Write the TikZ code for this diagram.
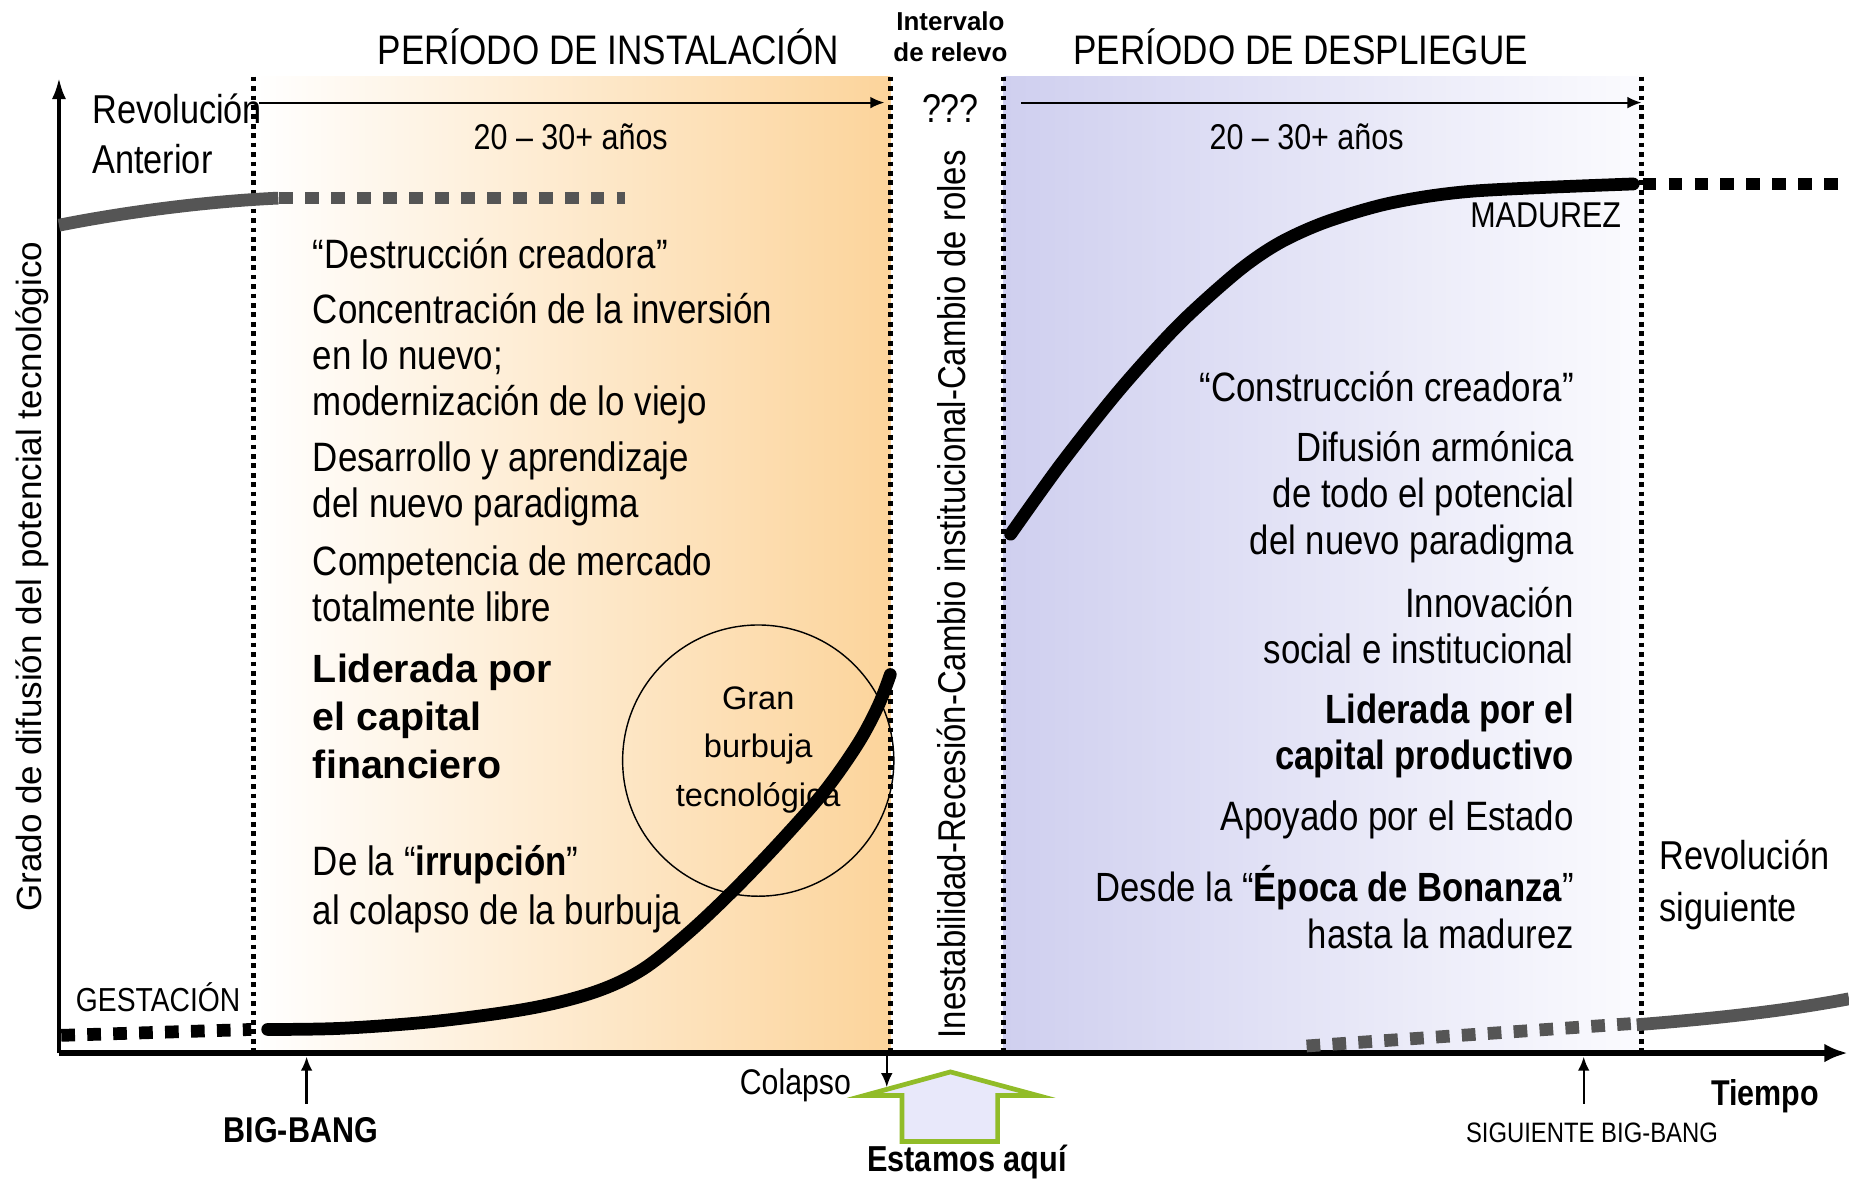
\documentclass[tikz,border=0pt]{standalone}
\usepackage{fontspec}
\setmainfont{Liberation Sans}
\newfontfamily\nfont[FakeStretch=0.85]{Liberation Sans}
\usetikzlibrary{arrows.meta}
\definecolor{orng}{RGB}{252,212,155}
\definecolor{orngmid}{RGB}{254,234,205}
\definecolor{lav}{RGB}{207,207,239}
\definecolor{lavmid}{RGB}{226,226,245}
\definecolor{lavend}{RGB}{251,251,254}
\definecolor{grayc}{RGB}{85,85,85}
\definecolor{grn}{RGB}{145,188,40}
\definecolor{arrfill}{RGB}{232,232,250}
\begin{document}
\begin{tikzpicture}[x=0.5pt,y=-0.5pt,
  dotv/.style={line width=2pt, dash pattern=on 2pt off 2pt},
  period/.style={line width=0.8pt, -{Latex[length=6pt,width=5pt]}},
  pointer/.style={line width=1pt, -{Latex[length=6pt,width=5pt]}},
  sline/.style={line width=5.4pt, line cap=round},
  dline/.style={line width=5.4pt, dash pattern=on 5.8pt off 5.2pt},
  body/.style={inner sep=0pt, font=\nfont\fontsize{17.4}{19.5}\selectfont},
  bodyb/.style={inner sep=0pt, font=\nfont\bfseries\fontsize{17.3}{19.5}\selectfont},
  small/.style={inner sep=0pt, font=\nfont\fontsize{15.2}{17}\selectfont},
  smallb/.style={inner sep=0pt, font=\nfont\bfseries\fontsize{15.2}{17}\selectfont}]
\useasboundingbox (0,0) rectangle (1568,1002);
\fill[white] (0,0) rectangle (1568,1002);

% period backgrounds
\shade[left color=white, middle color=orngmid, right color=orng] (215,65) rectangle (755,893);
\shade[left color=lav, middle color=lavmid, right color=lavend] (851,65) rectangle (1392,893);

% dotted period borders
\coordinate (d1t) at (215,65);  \coordinate (d1b) at (215,890);
\coordinate (d2t) at (755,65);  \coordinate (d2b) at (755,890);
\coordinate (d3t) at (851,65);  \coordinate (d3b) at (851,890);
\coordinate (d4t) at (1392,65); \coordinate (d4b) at (1392,890);
\draw[dotv] (d1t) -- (d1b);
\draw[dotv] (d2t) -- (d2b);
\draw[dotv] (d3t) -- (d3b);
\draw[dotv] (d4t) -- (d4b);

% axes
\coordinate (origin) at (50,893);
\coordinate (ytop) at (50,66);
\coordinate (xend) at (1567,893);
\draw[line width=1.6pt, -{Latex[length=9pt,width=6pt]}] (origin) -- (ytop);
\draw[line width=2.2pt, -{Latex[length=10pt,width=8pt]}] (origin) -- (xend);

% period arrows
\coordinate (pa1) at (220,87);  \coordinate (pa2) at (750,87);
\coordinate (pb1) at (866,87);  \coordinate (pb2) at (1392,87);
\draw[period] (pa1) -- (pa2);
\draw[period] (pb1) -- (pb2);

% titles
\node[inner sep=0pt, font=\nfont\fontsize{17.5}{20}\selectfont] (tinst) at (516,40) {PERÍODO DE INSTALACIÓN};
\node[inner sep=0pt, font=\nfont\fontsize{17.5}{20}\selectfont] (tdesp) at (1103,40) {PERÍODO DE DESPLIEGUE};
\node[inner sep=0pt, align=center, font=\bfseries\fontsize{11}{13}\selectfont] (interv) at (806,31) {Intervalo\\de relevo};
\node[inner sep=0pt, font=\nfont\fontsize{17}{19}\selectfont] (qqq) at (806,92) {???};
\node[small] (yr1) at (484,116) {20 – 30+ años};
\node[small] (yr2) at (1108,116) {20 – 30+ años};

% left column texts
\node[inner sep=0pt, anchor=west, align=left, font=\nfont\fontsize{17.1}{21.5}\selectfont] (revant) at (78,113.5) {Revolución\\Anterior};
\node[body, anchor=west, align=left] (destr) at (265,215) {“Destrucción creadora”};
\node[body, anchor=west, align=left] (conc) at (265,304) {Concentración de la inversión\\en lo nuevo;\\modernización de lo viejo};
\node[body, anchor=west, align=left] (desar) at (265,410.5) {Desarrollo y aprendizaje\\del nuevo paradigma};
\node[body, anchor=west, align=left] (compet) at (265,495) {Competencia de mercado\\totalmente libre};
\node[inner sep=0pt, anchor=west, align=left, font=\bfseries\fontsize{16.7}{20.25}\selectfont] (lidf) at (265,607.5) {Liderada por\\el capital\\financiero};
\node[inner sep=0pt, anchor=west, align=left, font=\nfont\fontsize{17.4}{20.5}\selectfont] (irrup) at (265,754) {De la “\textbf{irrupción}”\\al colapso de la burbuja};
\node[inner sep=0pt, anchor=west, font=\nfont\fontsize{14.1}{16}\selectfont] (gest) at (64,846) {GESTACIÓN};

% right column texts
\node[body, anchor=east, align=right] (constr) at (1335,328) {“Construcción creadora”};
\node[inner sep=0pt, anchor=east, align=right, font=\nfont\fontsize{17.3}{19.75}\selectfont] (difus) at (1335,421.5) {Difusión armónica\\de todo el potencial\\del nuevo paradigma};
\node[body, anchor=east, align=right] (innov) at (1335,530.5) {Innovación\\social e institucional};
\node[bodyb, anchor=east, align=right] (lidp) at (1335,624.5) {Liderada por el\\capital productivo};
\node[body, anchor=east, align=right] (apoy) at (1335,695) {Apoyado por el Estado};
\node[inner sep=0pt, anchor=east, align=right, font=\nfont\fontsize{17.3}{20}\selectfont] (desde) at (1335,769) {Desde la “\textbf{Época de Bonanza}”\\hasta la madurez};
\node[small, anchor=east] (madur) at (1375,183) {MADUREZ};
\node[inner sep=0pt, anchor=west, align=left, font=\nfont\fontsize{17.1}{22}\selectfont] (revsig) at (1407,750) {Revolución\\siguiente};

% vertical labels
\node[inner sep=0pt, rotate=90, font=\fontsize{14.85}{17}\selectfont] (ylabel) at (27,489) {Grado de difusión del potencial tecnológico};
\node[inner sep=0pt, rotate=90, font=\nfont\fontsize{16.4}{18}\selectfont] (inest) at (807,504) {Inestabilidad-Recesión-Cambio institucional-Cambio de roles};

% bubble
\node[circle, draw, line width=0.6pt, minimum size=115pt, inner sep=0pt] (bubble) at (643,645) {};
\node[inner sep=0pt, align=center, font=\fontsize{13.8}{20.5}\selectfont] (bubtxt) at (643,636) {Gran\\burbuja\\tecnológica};

% previous revolution
\draw[sline, color=grayc, line cap=butt] (50,191) .. controls (100,181) and (170,171) .. (236,168);
\draw[dline, color=grayc] (237,168) -- (530,168);
\draw[dline] (52,878) -- (213,873);

% installation curve
\draw[sline] plot[smooth, tension=0.55] coordinates {(227,873) (290,872) (370,866) (450,855) (505,841) (545,822) (585,790) (625,752) (665,710) (700,670) (728,630) (745,598) (755,572)};

% deployment curve
\draw[sline] plot[smooth, tension=0.5] coordinates {(857,453) (900,393) (950,330) (1000,275) (1050,230) (1085,206) (1125,188) (1180,172) (1250,162) (1385,156)};
\draw[dline] (1393,156) -- (1568,156);

% next revolution
\draw[dline, color=grayc] (1108,887) -- (1384,868);
\draw[sline, color=grayc, line cap=butt] (1388,869) .. controls (1450,864) and (1510,858) .. (1568,847);

% bottom markers
\coordinate (bbfoot) at (260,936);  \coordinate (bbtop) at (260,896);
\draw[pointer] (bbfoot) -- (bbtop);
\node[smallb] (bigbang) at (255,958) {BIG-BANG};
\coordinate (coltop) at (752,894);  \coordinate (colbot) at (752,922);
\draw[pointer] (coltop) -- (colbot);
\node[inner sep=0pt, anchor=east, font=\nfont\fontsize{15.1}{17}\selectfont] (colapso) at (722,920) {Colapso};
\coordinate (sbfoot) at (1343,936); \coordinate (sbtop) at (1343,896);
\draw[pointer] (sbfoot) -- (sbtop);
\node[inner sep=0pt, font=\nfont\fontsize{11.9}{14}\selectfont] (sigbb) at (1350,961) {SIGUIENTE BIG-BANG};
\node[smallb] (tiempo) at (1497,930) {Tiempo};

% "Estamos aquí" block arrow
\filldraw[fill=arrfill, draw=grn, line width=2pt, line join=miter]
  (806,909) -- (880,929) -- (846,929) -- (846,968) -- (765,968) -- (765,929) -- (733,929) -- cycle;
\node[inner sep=0pt, font=\nfont\bfseries\fontsize{15.3}{17}\selectfont] (estamos) at (820,985) {Estamos aquí};
\end{tikzpicture}
\end{document}
